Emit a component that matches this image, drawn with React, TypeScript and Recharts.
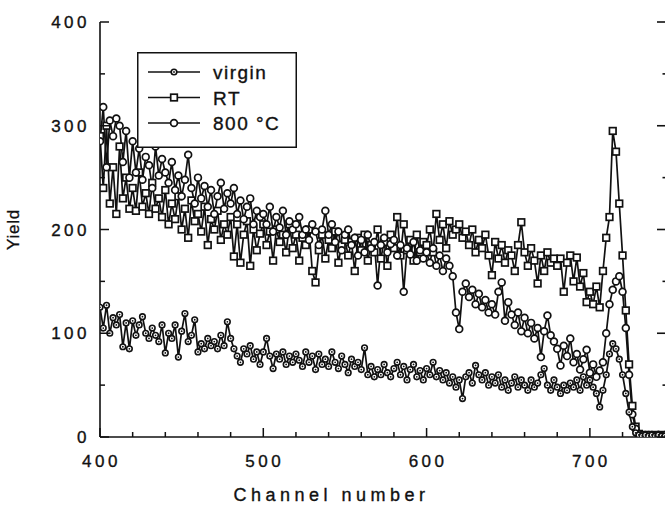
import { LineChart, Line, XAxis, YAxis, Legend } from 'recharts';

const FONT = '"Liberation Sans", Arial, sans-serif';
const INK = '#111';

// spectra are sampled every 2nd channel, 400..746
const CH_START = 400;
const CH_STEP = 2;

const VIRGIN = [
  125, 105, 127, 100, 115, 108, 118, 87, 110, 85,
  112, 98, 108, 116, 100, 95, 105, 98, 92, 108,
  81, 100, 95, 108, 77, 102, 119, 92, 98, 113,
  82, 90, 85, 95, 88, 92, 85, 98, 88, 111,
  95, 85, 78, 72, 85, 80, 88, 75, 82, 70,
  82, 95, 78, 66, 80, 75, 82, 70, 78, 72,
  80, 74, 68, 82, 72, 78, 65, 80, 70, 75,
  68, 82, 72, 66, 78, 70, 62, 75, 68, 72,
  65, 86, 60, 68, 58, 65, 60, 70, 62, 58,
  66, 72, 60, 68, 55, 65, 70, 58, 64, 55,
  66, 60, 72, 58, 64, 55, 62, 52, 58, 48,
  55, 37, 58, 62, 52, 69, 60, 55, 62, 50,
  58, 52, 60, 48, 55, 45, 52, 58, 48, 55,
  50, 45, 55, 48, 52, 60, 66, 50, 45, 55,
  48, 42, 50, 45, 52, 48, 55, 45, 58, 50,
  55, 48, 42, 29, 45, 60, 80, 90, 85, 75,
  60, 42, 24, 10, 4, 2, 1, 2, 1, 2,
  1, 2, 1, 1,
];

const RT = [
  290, 240, 300, 225, 260, 215, 280, 230, 250, 220,
  240, 218, 255, 222, 235, 215, 245, 220, 230, 212,
  238, 205, 225, 210, 232, 200, 220, 192, 228, 208,
  215, 198, 222, 185, 210, 200, 218, 190, 205, 195,
  212, 174, 205, 168, 195, 208, 165, 200, 180, 196,
  205, 185, 198, 170, 200, 188, 195, 178, 205, 182,
  195, 170, 192, 185, 200, 160, 149, 180, 195, 172,
  190, 182, 198, 168, 185, 190, 175, 188, 160, 192,
  180, 195, 170, 185, 178, 200, 172, 188, 165, 195,
  182, 212, 175, 205, 180, 190, 170, 195, 178, 188,
  185, 200, 178, 215, 190, 205, 182, 208, 195, 200,
  205, 192, 198, 185, 200, 178, 190, 182, 195, 175,
  156, 188, 172, 185, 168, 180, 175, 160, 185, 207,
  178, 165, 182, 170, 148, 175, 160, 178, 168, 172,
  165, 172, 140, 168, 175, 150, 173, 145, 158, 130,
  140, 128, 145, 125, 160, 192, 212, 295, 275, 225,
  175, 122, 70, 30, 10, 3, 2, 1, 2, 1,
  2, 1, 2, 1,
];

const ANNEAL_800 = [
  285, 318, 260, 305, 290, 307, 300, 265, 295, 250,
  285, 255, 278, 248, 270, 262, 240, 280, 252, 268,
  255, 245, 265, 238, 252, 232, 248, 272, 240, 225,
  250, 230, 242, 222, 238, 215, 232, 245, 220, 235,
  225, 240, 215, 228, 210, 222, 230, 205, 218, 212,
  215, 205, 222, 198, 212, 202, 218, 195, 208, 200,
  205, 212, 195, 200, 190, 205, 198, 185, 200, 218,
  195, 205, 188, 198, 180, 195, 200, 185, 192, 175,
  190, 178, 195, 182, 188, 146, 185, 192, 178, 186,
  190, 175, 185, 140, 182, 176, 188, 170, 180, 172,
  178, 168, 182, 165, 175, 160, 172, 165, 155, 120,
  104, 140, 148, 135, 142, 128, 138, 125, 132, 120,
  128, 118, 140, 149, 112, 130, 118, 108, 120, 102,
  115, 100, 110, 95, 105, 77, 102, 117, 98, 92,
  85, 69, 88, 78, 95, 72, 80, 65, 75, 84,
  62, 70, 58, 64, 72, 100, 128, 142, 150, 155,
  140, 105, 60, 22, 8, 3, 2, 1, 2, 1,
  1, 2, 1, 2,
];

const X_TICKS = [400, 420, 440, 460, 480, 500, 520, 540, 560, 580, 600, 620, 640, 660, 680, 700, 720, 740];
const X_LABELS = [400, 500, 600, 700];
const Y_TICKS = [0, 50, 100, 150, 200, 250, 300, 350, 400];
const Y_LABELS = [0, 100, 200, 300, 400];

const LEGEND_ORDER = ['virgin', 'RT', '800 °C'];

const rows = VIRGIN.map((v, i) => ({
  ch: CH_START + i * CH_STEP,
  virgin: v,
  rt: RT[i],
  hot: ANNEAL_800[i],
}));

const labelStyle = {
  fontFamily: FONT,
  fontSize: 17,
  letterSpacing: 3.5,
  fill: INK,
  stroke: INK,
  strokeWidth: 0.35,
};

function Marker({ kind, cx, cy }: { kind: string; cx: number; cy: number }) {
  if (kind === 'RT') {
    return <rect x={cx - 3.3} y={cy - 3.3} width={6.6} height={6.6} fill="#fff" stroke={INK} strokeWidth={1.7} />;
  }
  if (kind === 'virgin') {
    return (
      <g>
        <circle cx={cx} cy={cy} r={2.8} fill="#fff" stroke={INK} strokeWidth={1.6} />
        <circle cx={cx} cy={cy} r={0.9} fill={INK} />
      </g>
    );
  }
  return <circle cx={cx} cy={cy} r={3.4} fill="#fff" stroke={INK} strokeWidth={1.7} />;
}

const dotFor = (kind: string) => (p: any) => {
  if (p.cx == null || p.cy == null) return <g key={`${kind}-${p.index}`} />;
  return (
    <g key={`${kind}-${p.index}`}>
      <Marker kind={kind} cx={p.cx} cy={p.cy} />
    </g>
  );
};

function BottomTick({ x, y, payload }: any) {
  const major = X_LABELS.includes(payload.value);
  return (
    <g>
      <line x1={x} y1={y} x2={x} y2={y - (major ? 9 : 5)} stroke={INK} strokeWidth={1.5} />
      {major && (
        <text x={x + 1.5} y={y + 30} textAnchor="middle" style={labelStyle}>
          {payload.value}
        </text>
      )}
    </g>
  );
}

function TopTick({ x, y, payload }: any) {
  const major = X_LABELS.includes(payload.value);
  return <line x1={x} y1={y} x2={x} y2={y + (major ? 9 : 5)} stroke={INK} strokeWidth={1.5} />;
}

function LeftTick({ x, y, payload }: any) {
  const major = Y_LABELS.includes(payload.value);
  return (
    <g>
      <line x1={x} y1={y} x2={x + (major ? 9 : 5)} y2={y} stroke={INK} strokeWidth={1.5} />
      {major && (
        <text x={x - 10} y={y + 6} textAnchor="end" style={labelStyle}>
          {payload.value}
        </text>
      )}
    </g>
  );
}

// right axis sits at the page edge, only its inward ticks show
function RightTick({ x, y, payload }: any) {
  const major = Y_LABELS.includes(payload.value);
  return <line x1={x} y1={y} x2={x - (major ? 8 : 2.5)} y2={y} stroke={INK} strokeWidth={1.6} />;
}

function LegendBox({ payload }: any) {
  const items = [...(payload || [])].sort(
    (a: any, b: any) => LEGEND_ORDER.indexOf(a.value) - LEGEND_ORDER.indexOf(b.value)
  );
  return (
    <svg width={160} height={96} style={{ display: 'block' }}>
      <rect x={0.75} y={0.75} width={158.5} height={94.5} fill="#fff" stroke={INK} strokeWidth={1.5} />
      {items.map((it: any, i: number) => {
        const cy = 20 + i * 25.5;
        return (
          <g key={it.value}>
            <line x1={11} x2={63} y1={cy} y2={cy} stroke={INK} strokeWidth={1.5} />
            <Marker kind={it.value} cx={37} cy={cy} />
            <text
              x={76}
              y={cy + 7}
              style={{ fontFamily: FONT, fontSize: 19, letterSpacing: 1.5, fill: INK, stroke: INK, strokeWidth: 0.35 }}
            >
              {it.value}
            </text>
          </g>
        );
      })}
    </svg>
  );
}

export default function App() {
  return (
    <div style={{ position: 'absolute', left: 0, top: 0, background: '#fff' }}>
      <LineChart width={667} height={505} data={rows} margin={{ top: 22, right: 0, bottom: 0, left: 0 }}>
        <XAxis
          dataKey="ch"
          type="number"
          domain={[400, 746]}
          allowDataOverflow
          ticks={X_TICKS}
          interval={0}
          height={68}
          tickSize={0}
          tickMargin={0}
          tickLine={false}
          tick={<BottomTick />}
          axisLine={{ stroke: INK, strokeWidth: 1.6 }}
          label={{
            content: ({ viewBox }: any) => (
              <text
                x={viewBox.x + viewBox.width / 2 - 51}
                y={viewBox.y + 64}
                textAnchor="middle"
                style={{ fontFamily: FONT, fontSize: 18, letterSpacing: 4.5, fill: INK, stroke: INK, strokeWidth: 0.35 }}
              >
                Channel number
              </text>
            ),
          }}
        />
        <XAxis
          xAxisId="top"
          dataKey="ch"
          type="number"
          orientation="top"
          domain={[400, 746]}
          allowDataOverflow
          ticks={X_TICKS}
          interval={0}
          height={0}
          tickSize={0}
          tickMargin={0}
          tickLine={false}
          tick={<TopTick />}
          axisLine={{ stroke: INK, strokeWidth: 1.6 }}
        />
        <YAxis
          type="number"
          domain={[0, 400]}
          allowDataOverflow
          ticks={Y_TICKS}
          interval={0}
          width={100}
          tickSize={0}
          tickMargin={0}
          tickLine={false}
          tick={<LeftTick />}
          axisLine={{ stroke: INK, strokeWidth: 1.6 }}
          label={{
            content: ({ viewBox }: any) => (
              <text
                transform={`translate(${viewBox.x + 19}, ${viewBox.y + viewBox.height / 2})rotate(-90)`}
                textAnchor="middle"
                style={{ fontFamily: FONT, fontSize: 17, letterSpacing: 0.8, fill: INK, stroke: INK, strokeWidth: 0.3 }}
              >
                Yield
              </text>
            ),
          }}
        />
        <YAxis
          yAxisId="right"
          dataKey="rt"
          orientation="right"
          type="number"
          domain={[0, 400]}
          allowDataOverflow
          ticks={Y_TICKS}
          interval={0}
          width={2}
          tickSize={0}
          tickMargin={0}
          tickLine={false}
          tick={<RightTick />}
          axisLine={false}
        />
        <Legend
          layout="horizontal"
          verticalAlign="middle"
          align="center"
          content={<LegendBox />}
          wrapperStyle={{ left: 137, top: 52, width: 160, height: 96 }}
        />
        <Line
          dataKey="rt"
          name="RT"
          stroke={INK}
          strokeWidth={1.7}
          dot={dotFor('RT')}
          activeDot={false}
          isAnimationActive={false}
        />
        <Line
          dataKey="hot"
          name="800 °C"
          stroke={INK}
          strokeWidth={1.7}
          dot={dotFor('800 °C')}
          activeDot={false}
          isAnimationActive={false}
        />
        <Line
          dataKey="virgin"
          name="virgin"
          stroke={INK}
          strokeWidth={1.7}
          dot={dotFor('virgin')}
          activeDot={false}
          isAnimationActive={false}
        />
      </LineChart>
    </div>
  );
}
